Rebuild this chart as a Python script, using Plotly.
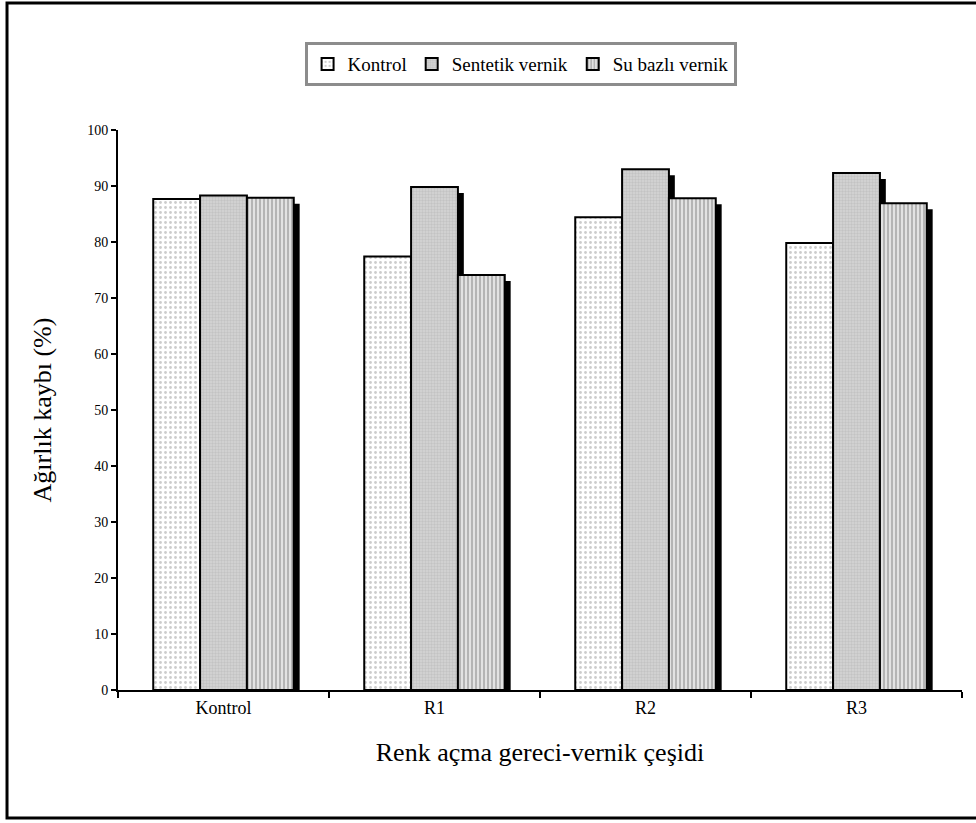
import plotly.graph_objects as go

categories = ["Kontrol", "R1", "R2", "R3"]
series_names = ["Kontrol", "Sentetik vernik", "Su bazlı vernik"]
kontrol = [87.7, 77.4, 84.4, 79.8]
sentetik = [88.3, 89.8, 93.0, 92.3]
su_bazli = [87.9, 74.1, 87.8, 86.9]
y_ticks = [0, 10, 20, 30, 40, 50, 60, 70, 80, 90, 100]

series_values = [kontrol, sentetik, su_bazli]
patterns = [
    dict(shape=".", fgcolor="#9a9a9a", bgcolor="#ffffff", size=5, solidity=0.25),
    dict(shape=".", fgcolor="#b0b0b0", bgcolor="#d6d6d6", size=3, solidity=0.5),
    dict(shape="|", fgcolor="#6e6e6e", bgcolor="#e2e2e2", size=4, solidity=0.4),
]

bar_w = 0.222
offsets = [-0.333, -0.111, 0.111]
shadow_dx = 0.028   # horizontal shift of the drop shadow (category units)
shadow_dy = 1.07    # vertical shift of the drop shadow (value units)

fig = go.Figure()
for name, vals, pat, off in zip(series_names, series_values, patterns, offsets):
    # drop shadow behind each bar
    fig.add_trace(go.Bar(
        x=categories, y=[v - shadow_dy for v in vals],
        width=bar_w, offset=off + shadow_dx,
        marker=dict(color="#000000", line=dict(width=0)),
        showlegend=False, hoverinfo="skip",
    ))
    fig.add_trace(go.Bar(
        x=categories, y=vals, name=name,
        width=bar_w, offset=off,
        marker=dict(pattern=pat, line=dict(color="#000000", width=2)),
    ))

serif = "Liberation Serif"
fig.update_layout(
    barmode="overlay",
    width=976, height=823,
    margin=dict(l=118, r=14, t=130, b=133),
    paper_bgcolor="#ffffff", plot_bgcolor="#ffffff",
    font=dict(family=serif, color="#000000"),
    legend=dict(
        orientation="h", x=0.477, xanchor="center", y=1.157, yanchor="top",
        bordercolor="#8c8c8c", borderwidth=3, bgcolor="#ffffff",
        font=dict(family=serif, size=19, color="#000000"),
        itemwidth=30, tracegroupgap=0,
    ),
    xaxis=dict(
        type="category", categoryorder="array", categoryarray=categories,
        range=[-0.5, 3.5],
        showline=True, linecolor="#000000", linewidth=2,
        ticks="outside", tickson="boundaries", ticklen=6, tickwidth=2, tickcolor="#000000",
        tickfont=dict(family=serif, size=18),
        title=dict(text="Renk açma gereci-vernik çeşidi", font=dict(family=serif, size=26), standoff=26),
        showgrid=False, zeroline=False,
    ),
    yaxis=dict(
        range=[0, 100], tickvals=y_ticks,
        showline=True, linecolor="#000000", linewidth=2,
        ticks="outside", ticklen=5, tickwidth=2, tickcolor="#000000",
        tickfont=dict(family=serif, size=14),
        title=dict(text="Ağırlık kaybı (%)", font=dict(family=serif, size=26), standoff=28),
        showgrid=False, zeroline=False,
    ),
    shapes=[dict(
        type="rect", xref="paper", yref="paper",
        x0=-0.1315, x1=1.2, y0=-0.2286, y1=1.2268,
        line=dict(color="#000000", width=3), fillcolor="rgba(0,0,0,0)", layer="below",
    )],
)

fig.write_html("out.html")
